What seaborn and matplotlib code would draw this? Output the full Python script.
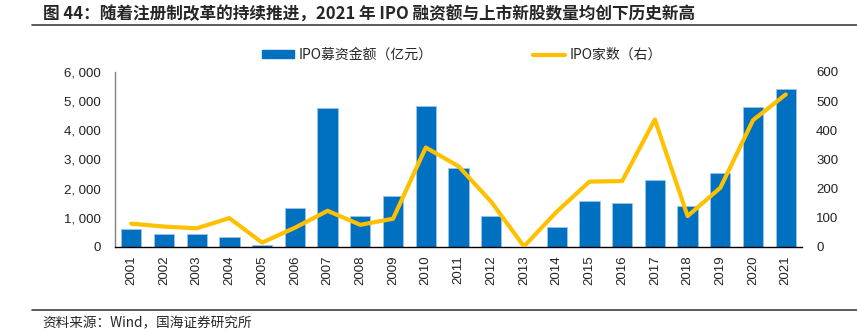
import matplotlib
matplotlib.use("Agg")
import matplotlib.pyplot as plt
import seaborn as sns
import pandas as pd
from matplotlib.patches import Patch
from matplotlib.lines import Line2D

years = [str(y) for y in range(2001, 2022)]
ipo_amount = [616, 456, 456, 342, 68, 1346, 4771, 1050, 1747, 4829, 2695,
              1050, 0, 674, 1575, 1495, 2295, 1393, 2523, 4784, 5421]
ipo_count = [80, 70, 64, 99, 15, 66, 124, 76, 97, 341, 277,
             155, 2, 121, 224, 226, 437, 106, 203, 435, 523]

title = "图 44：随着注册制改革的持续推进，2021 年 IPO 融资额与上市新股数量均创下历史新高"
source = "资料来源：Wind，国海证券研究所"
bar_label = "IPO募资金额（亿元）"
line_label = "IPO家数（右）"

BLUE = "#0070C0"
GOLD = "#FFC000"

sns.set_theme(style="white")
plt.rcParams["font.family"] = ["Liberation Sans", "Noto Sans CJK SC", "DejaVu Sans"]

df = pd.DataFrame({"year": years, "amount": ipo_amount, "count": ipo_count})

fig = plt.figure(figsize=(8.57, 3.34), dpi=100)
ax = fig.add_axes([0.134, 0.2605, 0.802, 0.524])

sns.barplot(data=df, x="year", y="amount", ax=ax, color=BLUE, width=0.62,
            saturation=1, edgecolor="#9DC3E6", linewidth=0.6)
ax.set_ylim(0, 6000)
ax.set_yticks(range(0, 6001, 1000))
ax.set_yticklabels([f"{v:,}".replace(",", ", ") for v in range(0, 6001, 1000)])
ax.set_xlabel("")
ax.set_ylabel("")

ax2 = ax.twinx()
sns.pointplot(data=df, x="year", y="count", ax=ax2, color=GOLD, markers="",
              linestyles="-", linewidth=3)
ax2.set_ylim(0, 600)
ax2.set_yticks(range(0, 601, 100))
ax2.set_ylabel("")
ax2.set_xlim(-0.5, len(years) - 0.5)
ax.set_xlim(-0.5, len(years) - 0.5)

for a in (ax, ax2):
    for s in ("top", "right"):
        a.spines[s].set_visible(False)
ax2.spines["left"].set_visible(False)
ax2.spines["bottom"].set_visible(False)
ax.spines["left"].set_color("#808080")
ax.spines["left"].set_linewidth(1.0)
ax.spines["bottom"].set_color("#000000")
ax.spines["bottom"].set_linewidth(1.0)

ax.tick_params(axis="y", labelsize=9.5, length=0, pad=10, colors="#222222")
ax2.tick_params(axis="y", labelsize=9.5, length=0, pad=10, colors="#222222")
ax.tick_params(axis="x", labelsize=9.5, length=0, pad=6, labelrotation=90,
               colors="#222222")

# legend
handles = [Patch(facecolor=BLUE, edgecolor=BLUE),
           Line2D([0], [0], color=GOLD, linewidth=3)]
fig.legend(handles, [bar_label, line_label], loc="center",
           bbox_to_anchor=(0.539, 0.835), ncol=2, frameon=False,
           handlelength=2.3, handleheight=0.45,
           handletextpad=0.35, columnspacing=7.2,
           prop={"family": ["Noto Sans CJK SC"], "size": 10})

# title and rule
fig.text(0.050, 0.955, title, fontsize=12, fontweight="bold",
         family=["Noto Sans CJK SC"], va="center", ha="left")
fig.add_artist(Line2D([0.037, 1.0], [0.925, 0.925], color="#404040",
                      linewidth=1.2, transform=fig.transFigure))

# footer
fig.add_artist(Line2D([0.037, 1.0], [0.072, 0.072], color="#404040",
                      linewidth=1.2, transform=fig.transFigure))
fig.text(0.049, 0.033, source, fontsize=9.8, family=["Noto Sans CJK SC"],
         va="center", ha="left")

fig.savefig("out.png", dpi=100)
